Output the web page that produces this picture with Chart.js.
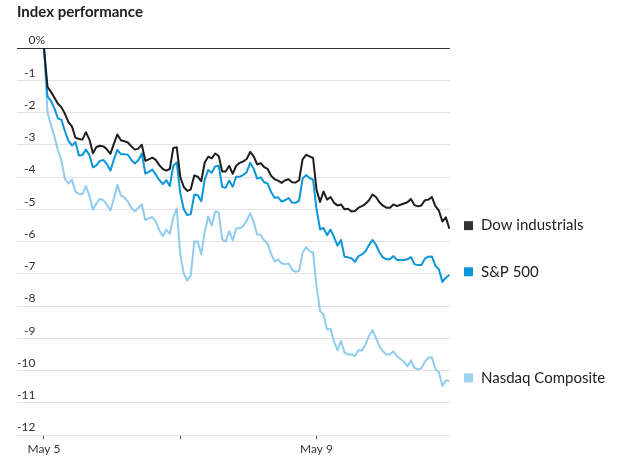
<!DOCTYPE html>
<html>
<head>
<meta charset="utf-8">
<script src="https://cdn.jsdelivr.net/npm/chart.js@4/dist/chart.umd.min.js"></script>
<style>
  html, body { margin: 0; padding: 0; background: #fff; }
  #wrap { width: 640px; height: 463px; }
</style>
</head>
<body>
<div id="wrap"><canvas id="chart"></canvas></div>
<script>
// 10-minute steps, 39 per trading day, starting May 5
const stepsPerDay = 39;
const dayLabels = ['May 5', '', 'May 9'];
const seriesNames = ['Dow industrials', 'S&P 500', 'Nasdaq Composite'];

const dowValues = [
    0, -1.2, -1.36, -1.54, -1.73, -1.84, -2.04, -2.3, -2.43, -2.78,
    -2.82, -2.84, -2.61, -2.84, -3.26, -3.07, -3.03, -3.05, -3.14, -3.28,
    -2.97, -2.68, -2.86, -2.89, -2.93, -3.05, -3.15, -3.12, -3.0, -3.5,
    -3.45, -3.4, -3.47, -3.63, -3.75, -3.8, -3.75, -3.1, -3.08, -4.0,
    -4.31, -4.43, -4.38, -3.95, -3.99, -4.13, -3.55, -3.37, -3.42, -3.27,
    -3.35, -3.83, -3.83, -3.65, -3.9, -3.65, -3.56, -3.52, -3.44, -3.22,
    -3.36, -3.61, -3.57, -3.69, -3.75, -3.96, -4.07, -4.11, -4.18, -4.1,
    -4.07, -4.16, -4.17, -4.1, -3.45, -3.31, -3.36, -3.41, -4.4, -4.77,
    -4.45, -4.7, -4.62, -4.8, -4.88, -4.85, -5.0, -4.98, -5.07, -5.05,
    -4.95, -4.9, -4.83, -4.72, -4.54, -4.62, -4.78, -4.89, -4.95, -4.95,
    -4.85, -4.9, -4.86, -4.82, -4.78, -4.68, -4.87, -4.91, -4.88, -4.72,
    -4.7, -4.62, -4.9, -5.04, -5.38, -5.25, -5.6
];

const spValues = [
    0, -1.5, -1.64, -1.88, -2.18, -2.23, -2.58, -2.88, -3.02, -2.92,
    -3.33, -3.32, -3.15, -3.32, -3.7, -3.64, -3.5, -3.47, -3.6, -3.8,
    -3.46, -3.16, -3.29, -3.29, -3.31, -3.47, -3.58, -3.48, -3.27, -3.89,
    -3.84, -3.77, -3.93, -4.09, -4.22, -4.1, -4.28, -3.65, -3.55, -4.5,
    -5.0, -5.18, -5.15, -4.55, -4.56, -4.75, -4.08, -3.78, -3.87, -3.67,
    -3.65, -4.31, -4.33, -4.11, -4.3, -3.99, -3.99, -3.94, -3.85, -3.56,
    -3.74, -4.05, -4.01, -4.16, -4.2, -4.47, -4.64, -4.63, -4.76, -4.72,
    -4.65, -4.79, -4.8, -4.73, -4.05, -3.94, -4.03, -4.08, -5.0, -5.62,
    -5.58, -5.8, -5.63, -5.86, -6.13, -5.95, -6.47, -6.49, -6.52, -6.63,
    -6.45, -6.4, -6.3, -6.11, -5.95, -6.1, -6.34, -6.49, -6.55, -6.55,
    -6.45, -6.57, -6.57, -6.57, -6.55, -6.48, -6.7, -6.73, -6.73, -6.53,
    -6.47, -6.46, -6.75, -6.86, -7.25, -7.12, -7.03
];

const nasdaqValues = [
    0, -2.0, -2.39, -2.75, -3.17, -3.5, -4.05, -4.2, -4.08, -4.45,
    -4.52, -4.53, -4.28, -4.58, -5.01, -4.82, -4.68, -4.72, -4.86, -5.04,
    -4.67, -4.24, -4.57, -4.63, -4.76, -4.96, -5.06, -4.95, -4.85, -5.33,
    -5.28, -5.24, -5.38, -5.65, -5.83, -5.63, -5.76, -5.25, -4.98, -6.4,
    -7.0, -7.21, -7.05, -6.0, -6.0, -6.4, -5.7, -5.23, -5.5, -5.07,
    -5.1, -5.93, -6.0, -5.68, -5.96, -5.59, -5.59, -5.52, -5.36, -5.12,
    -5.39, -5.78, -5.79, -5.97, -6.07, -6.38, -6.62, -6.55, -6.68, -6.7,
    -6.68, -6.87, -6.94, -6.91, -6.35, -6.17, -6.3, -6.34, -7.4, -8.15,
    -8.27, -8.73, -8.7, -9.1, -9.37, -9.08, -9.44, -9.5, -9.5, -9.55,
    -9.37, -9.38, -9.19, -8.93, -8.74, -8.99, -9.25, -9.4, -9.5, -9.5,
    -9.4, -9.55, -9.64, -9.72, -9.87, -9.68, -9.92, -9.96, -9.93, -9.72,
    -9.6, -9.59, -9.95, -10.05, -10.48, -10.3, -10.32
];

const lineColors = ['#1e1e1e', '#0b96d9', '#90cbf0'];
const swatchColors = ['#333333', '#0b96d9', '#9ed1f2'];

Chart.defaults.font.family = 'Lato, "Open Sans", sans-serif';
Chart.defaults.color = '#333';

function toPoints(values) {
    return values.map((v, i) => ({ x: i / stepsPerDay, y: v }));
}

// Series names next to the last value of each line
const endLabels = {
    id: 'endLabels',
    afterDatasetsDraw(chart) {
        const ctx = chart.ctx;
        const yScale = chart.scales.y;
        const right = chart.chartArea.right;
        ctx.save();
        ctx.font = '15px Lato, sans-serif';
        ctx.textBaseline = 'middle';
        ctx.textAlign = 'left';
        chart.data.datasets.forEach((ds, i) => {
            const last = ds.data[ds.data.length - 1].y;
            const py = yScale.getPixelForValue(last) - 3;
            ctx.fillStyle = swatchColors[i];
            ctx.fillRect(right + 14, py - 4.5, 9, 9);
            ctx.fillStyle = '#222';
            ctx.fillText(ds.label, right + 31, py);
        });
        ctx.restore();
    }
};

// "%" sign after the 0 tick label
const percentSign = {
    id: 'percentSign',
    afterDraw(chart) {
        const yScale = chart.scales.y;
        const ctx = chart.ctx;
        ctx.save();
        ctx.font = '12px Lato, sans-serif';
        let widest = 0;
        yScale.ticks.forEach(t => {
            widest = Math.max(widest, ctx.measureText(String(t.label)).width);
        });
        ctx.fillStyle = '#333';
        ctx.textAlign = 'left';
        ctx.textBaseline = 'middle';
        ctx.fillText('%', yScale.right + widest, yScale.getPixelForValue(0) - 7.5);
        ctx.restore();
    }
};

const ctx = document.getElementById('chart').getContext('2d');
const myChart = new Chart(ctx, {
    type: 'line',
    data: {
        datasets: [
            { label: seriesNames[0], data: toPoints(dowValues), borderColor: lineColors[0] },
            { label: seriesNames[1], data: toPoints(spValues), borderColor: lineColors[1] },
            { label: seriesNames[2], data: toPoints(nasdaqValues), borderColor: lineColors[2] }
        ]
    },
    options: {
        responsive: true,
        maintainAspectRatio: false,
        animation: false,
        layout: { padding: { left: 17, right: 190, top: 0, bottom: 3.5 } },
        elements: {
            line: { borderWidth: 2, tension: 0, borderJoinStyle: 'round' },
            point: { radius: 0 }
        },
        plugins: {
            legend: { display: false },
            tooltip: { enabled: false },
            title: {
                display: true,
                text: 'Index performance',
                align: 'start',
                color: '#222',
                font: { size: 15, weight: 'bold' },
                padding: { top: 3, bottom: 27 }
            }
        },
        scales: {
            x: {
                type: 'linear',
                min: -0.198,
                max: 2.979,
                afterBuildTicks: axis => {
                    axis.ticks = dayLabels.map((_, i) => ({ value: i }));
                },
                ticks: {
                    callback: value => dayLabels[value],
                    font: { size: 12 },
                    color: '#333',
                    padding: 3,
                    maxRotation: 0,
                    autoSkip: false
                },
                grid: { drawOnChartArea: false, drawTicks: true, tickLength: 4, color: '#555' },
                border: { display: false }
            },
            y: {
                min: -12,
                max: 0,
                ticks: {
                    stepSize: 1,
                    mirror: true,
                    crossAlign: 'far',
                    padding: 0,
                    labelOffset: -7.5,
                    font: { size: 12 },
                    color: '#333',
                    callback: value => String(value)
                },
                grid: {
                    drawTicks: false,
                    color: c => (c.tick && c.tick.value === 0 ? '#333' : '#e3e3e3')
                },
                border: { display: false }
            }
        }
    },
    plugins: [endLabels, percentSign]
});
</script>
</body>
</html>
